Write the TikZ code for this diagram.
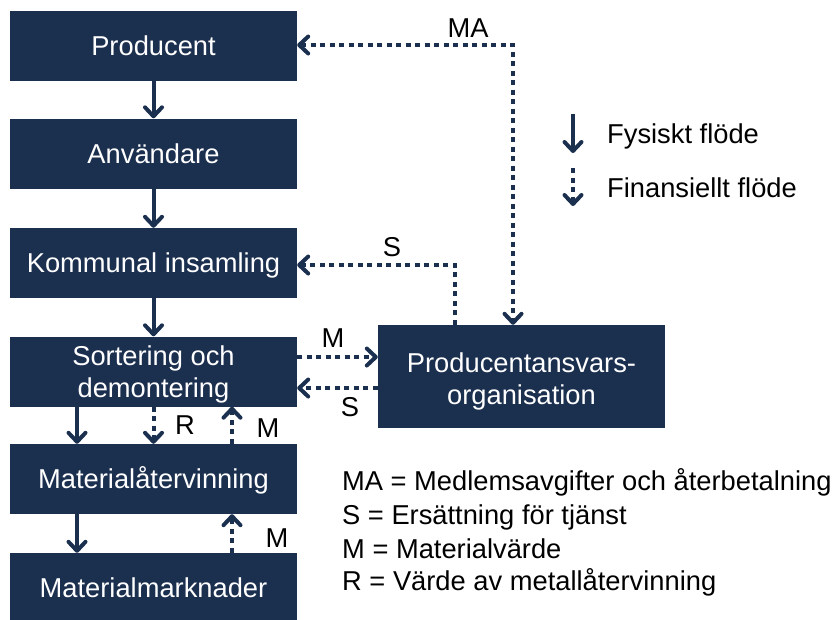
\documentclass[tikz,border=0pt]{standalone}
\usepackage{fontspec}
\setmainfont{Liberation Sans}
\usetikzlibrary{arrows.meta}
\definecolor{navy}{RGB}{27,47,79}
\begin{document}
\begin{tikzpicture}[x=1pt,y=-1pt,
  box/.style={fill=navy, text=white, minimum width=287pt, minimum height=70pt, inner sep=0pt, align=center, font=\fontsize{27.3}{32.5}\selectfont},
  onebox/.style={box, text height=19.6pt, text depth=0pt},
  tipv/.style={-{Straight Barb[length=9pt,width=17pt,line cap=round,line join=round]}},
  phys/.style={draw=navy, line width=4pt, tipv},
  fin/.style={draw=navy, line width=4pt, dash pattern=on 5pt off 4.5pt, tipv},
  finboth/.style={draw=navy, line width=4pt, dash pattern=on 5pt off 4.5pt, {Straight Barb[length=9pt,width=17pt,line cap=round,line join=round]}-{Straight Barb[length=9pt,width=17pt,line cap=round,line join=round]}},
  lab/.style={font=\fontsize{27.3}{32}\selectfont, text=black, inner sep=0pt}
]
\useasboundingbox (0,0) rectangle (838,619);

% boxes
\node[onebox] (prod) at (153.5,46) {Producent};
\node[onebox] (anv) at (153.5,153.5) {Användare};
\node[onebox] (kom) at (153.5,263) {Kommunal insamling};
\node[box, text height=52.6pt, text depth=0pt] (sort) at (153.5,371.5) {Sortering och\\demontering};
\node[onebox] (mat) at (153.5,479) {Materialåtervinning};
\node[onebox] (mark) at (153.5,588) {Materialmarknader};
\node[box, minimum height=103pt, text height=56.6pt, text depth=0pt] (pro) at (521.5,376.5) {Producentansvars-\\organisation};

% helper coordinates
\coordinate (xL) at (77,0);
\coordinate (xC) at (153.5,0);
\coordinate (xR) at (232,0);
\coordinate (maC) at (513,45);
\coordinate (sC) at (455,265);
\coordinate (yM) at (0,357);
\coordinate (yS) at (0,388);

% physical flow
\draw[phys] (prod) -- (anv);
\draw[phys] (anv) -- (kom);
\draw[phys] (kom) -- (sort);
\draw[phys] (sort.south -| xL) -- (mat.north -| xL);
\draw[phys] (mat.south -| xL) -- (mark.north -| xL);

% financial flow
\draw[fin] (sort.south -| xC) -- (mat.north -| xC);
\draw[fin] (mat.north -| xR) -- (sort.south -| xR);
\draw[fin] (mark.north -| xR) -- (mat.south -| xR);
\draw[finboth] (prod.east |- maC) -- (maC) -- (pro.north -| maC);
\draw[fin] (pro.north -| sC) -- (sC) -- (kom.east |- sC);
\draw[fin] (sort.east |- yM) -- (pro.west |- yM);
\draw[fin] (pro.west |- yS) -- (sort.east |- yS);

% flow labels
\node[lab, anchor=base] (lMA) at (468,37) {MA};
\node[lab, anchor=base] (lS1) at (392,256) {S};
\node[lab, anchor=base] (lM1) at (333,347) {M};
\node[lab, anchor=base] (lS2) at (350,416) {S};
\node[lab, anchor=base] (lR) at (185,434) {R};
\node[lab, anchor=base] (lM2) at (268,437) {M};
\node[lab, anchor=base] (lM3) at (277,547) {M};

% legend
\coordinate (lg1a) at (573,114);
\coordinate (lg1b) at (573,153);
\coordinate (lg2a) at (573,168);
\coordinate (lg2b) at (573,206);
\draw[phys] (lg1a) -- (lg1b);
\draw[fin] (lg2a) -- (lg2b);
\node[lab, anchor=base west] (t1) at (607,143) {Fysiskt flöde};
\node[lab, anchor=base west] (t2) at (607,197) {Finansiellt flöde};

% key
\node[lab, anchor=base west] (k1) at (342,490) {MA = Medlemsavgifter och återbetalning};
\node[lab, anchor=base west] (k2) at (342,524) {S = Ersättning för tjänst};
\node[lab, anchor=base west] (k3) at (342,558) {M = Materialvärde};
\node[lab, anchor=base west] (k4) at (342,590) {R = Värde av metallåtervinning};
\end{tikzpicture}
\end{document}
